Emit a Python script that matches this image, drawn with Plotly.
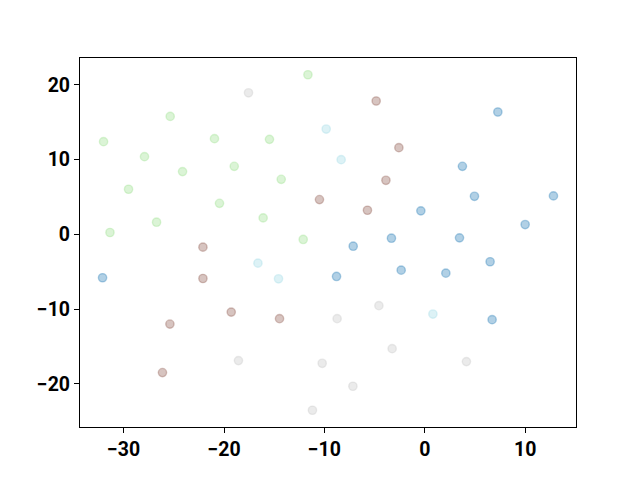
import plotly.graph_objects as go

# Data (five groups)
blue_x = [7.28, 3.75, 4.95, 12.82, -0.39, 10.00, -3.32, 3.46, -7.13, 6.51, -8.79, -2.35, 2.10, 6.71, -32.10]
blue_y = [16.37, 9.10, 5.09, 5.14, 3.14, 1.31, -0.52, -0.47, -1.59, -3.67, -5.64, -4.80, -5.20, -11.42, -5.81]

green_x = [-11.64, -25.36, -32.00, -20.95, -15.47, -27.92, -24.13, -18.98, -14.30, -29.51, -20.45, -16.10, -26.72, -31.36, -12.11]
green_y = [21.35, 15.78, 12.40, 12.80, 12.71, 10.39, 8.39, 9.10, 7.36, 6.03, 4.15, 2.20, 1.62, 0.24, -0.69]

brown_x = [-4.84, -10.49, -2.58, -3.87, -5.71, -22.10, -22.10, -19.28, -14.47, -25.39, -26.13]
brown_y = [17.84, 4.65, 11.60, 7.23, 3.22, -1.72, -5.91, -10.41, -11.29, -12.01, -18.50]

gray_x = [-17.56, -18.56, -10.22, -11.19, -4.57, -8.73, -3.25, 4.15, -7.16]
gray_y = [18.94, -16.90, -17.26, -23.54, -9.55, -11.29, -15.30, -17.03, -20.33]

cyan_x = [-9.82, -8.33, -16.62, -14.57, 0.81]
cyan_y = [14.09, 9.99, -3.86, -5.95, -10.67]

groups = [
    (blue_x, blue_y, (31, 119, 180)),
    (green_x, green_y, (152, 223, 138)),
    (brown_x, brown_y, (140, 86, 75)),
    (gray_x, gray_y, (199, 199, 199)),
    (cyan_x, cyan_y, (158, 218, 229)),
]

ALPHA = 0.35
fig = go.Figure()
for xs, ys, (r, g, b) in groups:
    c = f"rgba({r},{g},{b},{ALPHA})"
    fig.add_trace(go.Scatter(
        x=xs, y=ys, mode="markers",
        marker=dict(size=8.3, color=c, line=dict(color=c, width=1.4)),
        showlegend=False, hoverinfo="skip",
    ))

all_x = sum([gp[0] for gp in groups], [])
all_y = sum([gp[1] for gp in groups], [])
def padded(vals):
    lo, hi = min(vals), max(vals)
    s = hi - lo
    return [lo - 0.05 * s, hi + 0.05 * s]

tickfont = dict(family="Roboto", size=19.5, color="black", weight="bold")
axis_common = dict(
    showgrid=False, zeroline=False, showline=True, mirror=True,
    linecolor="black", linewidth=1.1, ticks="outside", ticklen=5,
    tickwidth=1.1, tickcolor="black", tickfont=tickfont,
)
fig.update_xaxes(range=padded(all_x), tickvals=[-30, -20, -10, 0, 10], **axis_common)
fig.update_yaxes(range=padded(all_y), tickvals=[-20, -10, 0, 10, 20], **axis_common)

fig.update_layout(
    width=640, height=480, autosize=False,
    margin=dict(l=80, r=64, t=57.6, b=52.8, pad=0),
    paper_bgcolor="white", plot_bgcolor="white",
)
fig.write_html(
    "out.html",
    config={"displayModeBar": False},
    post_script="document.body.style.margin='0';document.body.style.padding='0';",
)
